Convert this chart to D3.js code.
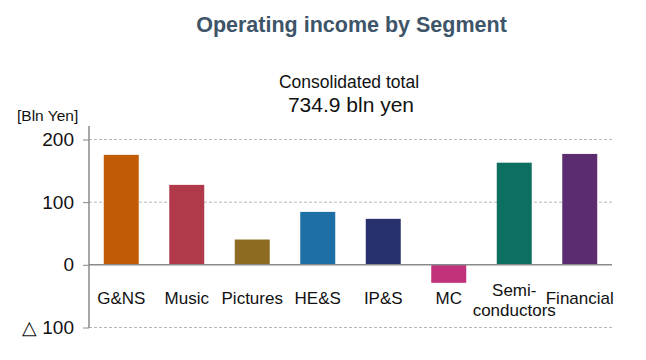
<!DOCTYPE html>
<html><head><meta charset="utf-8">
<script src="https://cdn.jsdelivr.net/npm/d3@7"></script>
<style>body{margin:0;background:#fff;}svg{display:block;}text{font-family:"Liberation Sans",Arial,sans-serif;}</style>
</head><body><svg id="c" width="646" height="360"></svg>
<script>
const categories = ["G&NS","Music","Pictures","HE&S","IP&S","MC","Semi-\nconductors","Financial"];
const values = [175.5, 127.6, 40.4, 84.5, 73.4, -28.7, 163.0, 177.0];
const colors = ["#c25b06","#b03a4a","#8e6b22","#1d6fa6","#28306e","#c2317c","#0d6f60","#5b2d70"];
const tickValues = [-100, 0, 100, 200];
const tickLabels = ["△ 100","0","100","200"];

const svg = d3.select("#c");
const x = d3.scaleBand().domain(categories).range([88.5, 612.5]).paddingInner(0.466).paddingOuter(0.233);
const y = d3.scaleLinear().domain([-100, 200]).range([327.5, 139.5]);

svg.append("text").attr("x", 351.5).attr("y", 32).attr("text-anchor","middle")
  .attr("font-size", 21.5).attr("font-weight","bold").attr("fill","#3e5468").text("Operating income by Segment");
svg.append("text").attr("x", 349).attr("y", 88).attr("text-anchor","middle")
  .attr("font-size", 17.5).attr("fill","#111").text("Consolidated total");
svg.append("text").attr("x", 351).attr("y", 112).attr("text-anchor","middle")
  .attr("font-size", 21).attr("fill","#111").text("734.9 bln yen");
svg.append("text").attr("x", 17).attr("y", 121).attr("font-size", 15.5).attr("fill","#111").text("[Bln Yen]");

// gridlines
svg.append("g").selectAll("line").data(tickValues.filter(d => d !== 0)).join("line")
  .attr("x1", 89).attr("x2", 612).attr("y1", d => y(d)).attr("y2", d => y(d))
  .attr("stroke","#b8b8b8").attr("stroke-dasharray","3,2").attr("stroke-width",1);

// y axis
const yAxis = d3.axisLeft(y).tickValues(tickValues).tickSize(6).tickPadding(9)
  .tickFormat((d,i) => tickLabels[tickValues.indexOf(d)]);
const ga = svg.append("g").attr("transform","translate(89,0)").call(yAxis);
ga.select(".domain").attr("stroke","#8a8a8a").attr("stroke-width",1.5).attr("d","M0,126V328");
ga.selectAll(".tick line").attr("stroke","#8a8a8a");
ga.selectAll(".tick text").attr("font-size",19).attr("fill","#111").attr("font-family","Liberation Sans, Arial, sans-serif");

// bars
svg.append("g").selectAll("rect").data(values).join("rect")
  .attr("x", (d,i) => x(categories[i])).attr("width", x.bandwidth())
  .attr("y", d => y(Math.max(0,d))).attr("height", d => Math.abs(y(d) - y(0)))
  .attr("fill", (d,i) => colors[i]);

// zero line
svg.append("line").attr("x1", 89).attr("x2", 612).attr("y1", y(0)).attr("y2", y(0))
  .attr("stroke","#8a8a8a").attr("stroke-width",1.5);

// category labels
const lbl = svg.append("g").selectAll("text").data(categories).join("text")
  .attr("x", d => x(d) + x.bandwidth()/2).attr("text-anchor","middle")
  .attr("font-size",17).attr("fill","#111");
lbl.each(function(d){
  const parts = d.split("\n");
  const t = d3.select(this);
  if (parts.length === 1) { t.attr("y", 304).text(d); }
  else {
    t.attr("y", 296);
    parts.forEach((p,j) => t.append("tspan").attr("x", x(d) + x.bandwidth()/2).attr("dy", j===0?0:20).text(p));
  }
});
</script></body></html>
